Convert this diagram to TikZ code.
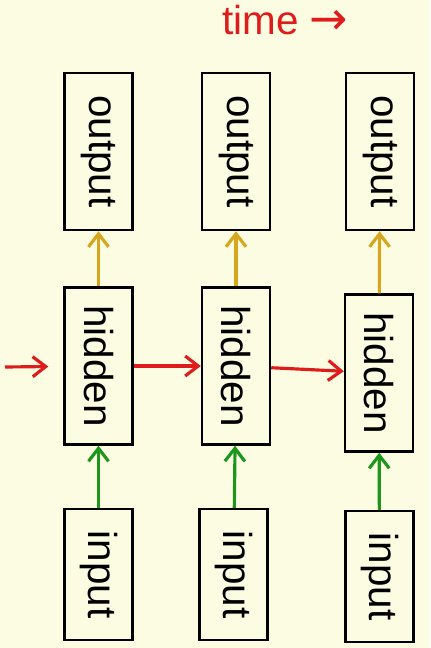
\documentclass[tikz,border=0pt]{standalone}
\usepackage{fontspec}
\setmainfont{Liberation Sans}
\newfontfamily\arrowfont{DejaVu Sans}
\usepackage{xcolor}
\usetikzlibrary{arrows.meta}

\definecolor{paper}{RGB}{252,252,226}
\definecolor{timered}{RGB}{222,28,28}
\definecolor{upgold}{RGB}{214,166,30}
\definecolor{ingreen}{RGB}{30,150,30}

\begin{document}
\begin{tikzpicture}[
        x=0.02cm, y=-0.02cm,
        font=\fontsize{23}{27}\selectfont,
        >={Straight Barb[length=0.26cm, width=0.4cm]},
        box/.style={draw, line width=1.4pt, rotate=-90, inner sep=0pt,
          minimum height=1.36cm},
        tallbox/.style={box, minimum width=3.14cm},
        shortbox/.style={box, minimum width=2.62cm},
        link/.style={->, line width=1.8pt},
      ]

      \fill[paper] (0,0) rectangle (430,648);
      \useasboundingbox (0,0) rectangle (430,648);

      \node[text=timered, anchor=base west] (time) at (216,35)
        {time {\arrowfont\fontsize{26}{30}\selectfont →}};

      % outputs
      \node[tallbox] (o1) at (98.5,151.5) {output};
      \node[tallbox] (o2) at (236,151.5)  {output};
      \node[tallbox] (o3) at (380,151.5)  {output};

      % hidden states
      \node[tallbox] (h1) at (98.5,366) {hidden};
      \node[tallbox] (h2) at (236,366)  {hidden};
      \node[tallbox] (h3) at (379,373)  {hidden};

      % inputs
      \node[shortbox] (i1) at (98.5,574.5)  {input};
      \node[shortbox] (i2) at (233.5,574.5) {input};
      \node[shortbox] (i3) at (379.5,576.5) {input};

      \coordinate (h0) at (5,367);

      \path[link, upgold]
      (h1) edge (o1)
      (h2) edge (o2)
      (h3) edge (o3);

      \path[link, ingreen]
      (i1) edge (h1)
      (i2) edge (h2)
      (i3) edge (h3);

      \path[link, timered]
      (h0) edge [shorten >=0.3cm] (h1)
      (h1) edge (h2)
      (h2) edge (h3);
    \end{tikzpicture}
\end{document}
